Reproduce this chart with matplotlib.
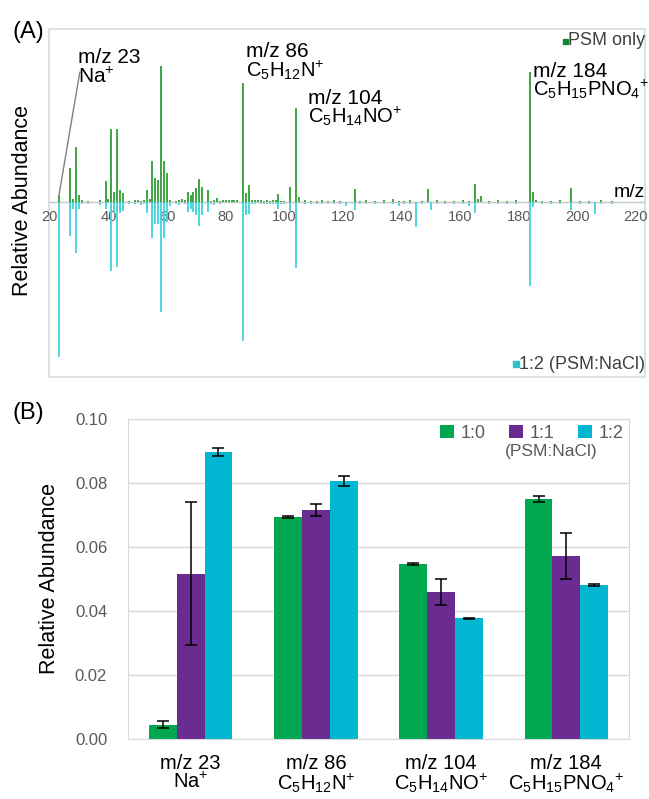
import matplotlib
matplotlib.use('Agg')
import matplotlib.pyplot as plt
import matplotlib.patches as patches
import numpy as np

plt.rcParams['font.family'] = ['Liberation Sans', 'DejaVu Sans']
plt.rcParams['mathtext.default'] = 'regular'

# (A) spectra, intensities scaled to half of the panel height
psm_mz = [23, 27, 28, 29, 30, 39, 40, 41, 42, 43, 44, 45, 50, 53, 54, 55, 56, 57, 58, 59, 60,
          65, 67, 68, 69, 70, 71, 72, 74, 77, 79, 80, 81, 82, 83, 84, 86, 87, 88, 91, 98,
          102, 104, 105, 124, 149, 165, 166, 167, 184, 185, 186, 198]
psm_int = [0.037, 0.197, 0.02, 0.32, 0.04, 0.12, 0.02, 0.42, 0.06, 0.42, 0.07, 0.05, 0.015,
           0.07, 0.02, 0.24, 0.14, 0.13, 0.784, 0.24, 0.17, 0.02, 0.06, 0.04, 0.056, 0.08,
           0.135, 0.09, 0.07, 0.025, 0.015, 0.012, 0.015, 0.012, 0.015, 0.012, 0.69, 0.05,
           0.10, 0.01, 0.046, 0.087, 0.545, 0.027, 0.075, 0.075, 0.104, 0.02, 0.033, 0.75,
           0.06, 0.015, 0.08]
nacl_mz = [23, 27, 28, 29, 30, 39, 41, 42, 43, 44, 45, 53, 55, 56, 57, 58, 59, 60, 67, 68,
           69, 70, 71, 72, 74, 86, 87, 88, 98, 102, 104, 121, 124, 145, 150, 165, 184, 185,
           198, 206]
nacl_int = [0.895, 0.197, 0.04, 0.296, 0.04, 0.04, 0.40, 0.06, 0.373, 0.06, 0.05, 0.063,
            0.21, 0.125, 0.125, 0.637, 0.21, 0.115, 0.057, 0.04, 0.057, 0.076, 0.14, 0.076,
            0.057, 0.80, 0.076, 0.067, 0.04, 0.05, 0.38, 0.02, 0.048, 0.143, 0.048, 0.063,
            0.484, 0.03, 0.048, 0.07]
# small baseline peaks
noise_mz = [31, 33, 37, 47, 49, 51, 52, 61, 63, 64, 66, 75, 76, 78, 89, 90, 92, 93, 94, 95,
            96, 97, 99, 100, 107, 109, 111, 113, 115, 117, 119, 126, 128, 131, 134, 137, 139,
            141, 143, 147, 152, 155, 158, 161, 163, 170, 173, 176, 179, 188, 191, 194, 201,
            204, 208, 212]
noise_psm = [0.01, 0.008, 0.012, 0.009, 0.011, 0.008, 0.01, 0.012, 0.009, 0.014, 0.01, 0.008,
             0.012, 0.009, 0.011, 0.01, 0.013, 0.009, 0.012, 0.008, 0.01, 0.011, 0.009, 0.008,
             0.01, 0.009, 0.008, 0.011, 0.009, 0.01, 0.008, 0.009, 0.011, 0.008, 0.01, 0.016,
             0.009, 0.008, 0.01, 0.009, 0.012, 0.008, 0.009, 0.01, 0.008, 0.009, 0.011, 0.008,
             0.01, 0.009, 0.008, 0.012, 0.009, 0.008, 0.01, 0.008]
noise_nacl = [0.012, 0.01, 0.015, 0.012, 0.01, 0.014, 0.012, 0.02, 0.011, 0.018, 0.012, 0.01,
              0.015, 0.012, 0.01, 0.012, 0.011, 0.01, 0.009, 0.012, 0.01, 0.011, 0.009, 0.01,
              0.01, 0.009, 0.012, 0.01, 0.009, 0.011, 0.01, 0.012, 0.01, 0.009, 0.011, 0.012,
              0.02, 0.01, 0.009, 0.01, 0.009, 0.011, 0.01, 0.012, 0.02, 0.01, 0.009, 0.011,
              0.01, 0.009, 0.011, 0.01, 0.012, 0.01, 0.009, 0.01]
mz_ticks = [20, 40, 60, 80, 100, 120, 140, 160, 180, 200, 220]

# (B) bar data
categories = ['m/z 23\nNa$^{+}$', 'm/z 86\nC$_5$H$_{12}$N$^{+}$',
              'm/z 104\nC$_5$H$_{14}$NO$^{+}$', 'm/z 184\nC$_5$H$_{15}$PNO$_4$$^{+}$']
ratios = ['1:0', '1:1', '1:2']
abund_10 = [0.0045, 0.0695, 0.0546, 0.0750]
abund_11 = [0.0517, 0.0716, 0.0460, 0.0572]
abund_12 = [0.0896, 0.0806, 0.0377, 0.0481]
err_10 = [0.0010, 0.0003, 0.0003, 0.0008]
err_11 = [0.0224, 0.0018, 0.0040, 0.0073]
err_12 = [0.0013, 0.0015, 0.0002, 0.0002]

W, H = 649, 799


def fx(px):
    return px / W


def fy(py):
    return 1 - py / H


fig = plt.figure(figsize=(W / 100, H / 100), dpi=100)

# ---------- panel A ----------
green = '#2f9e35'
cyan = '#3fd3dc'
axA = fig.add_axes([fx(49), fy(377), fx(645) - fx(49), fy(29) - fy(377)])
axA.set_xlim(19.7, 223.1)
axA.set_ylim(-1.01, 1.0)
axA.axhline(0, color='#c8c8c8', lw=1, zorder=1)
axA.vlines(noise_mz, 0, noise_psm, color=green, lw=1.3, zorder=2)
axA.vlines(noise_mz, 0, [-v for v in noise_nacl], color=cyan, lw=1.3, zorder=2)
axA.vlines(psm_mz, 0, psm_int, color=green, lw=1.3, zorder=3)
axA.vlines(nacl_mz, 0, [-v for v in nacl_int], color=cyan, lw=1.3, zorder=3)
for s in axA.spines.values():
    s.set_visible(False)
axA.spines['bottom'].set_visible(True)
axA.spines['bottom'].set_position(('data', 0))
axA.spines['bottom'].set_color('#c8c8c8')
axA.add_patch(patches.Rectangle((0, 0), 1, 1, transform=axA.transAxes, fill=False,
                                ec='#d9d9d9', lw=1.2, clip_on=False))
axA.set_xticks(mz_ticks)
axA.tick_params(axis='x', length=0, pad=6, labelsize=10.5, labelcolor='#595959')
axA.set_yticks([])

# m/z 23 leader line
axA.plot([23, 30.2], [0.03, 0.75], color='#808080', lw=1)

fs = 15
fs2 = 14.5
fig.text(fx(12), fy(38), '(A)', fontsize=17)
fig.text(fx(23), fy(200), 'Relative Abundance', rotation=90, fontsize=15.5,
         ha='center', va='center')
fig.text(fx(78), fy(63), 'm/z 23', fontsize=fs)
fig.text(fx(78), fy(83), 'Na$^{+}$', fontsize=fs)
fig.text(fx(246), fy(57), 'm/z 86', fontsize=fs)
fig.text(fx(246), fy(77), 'C$_5$H$_{12}$N$^{+}$', fontsize=fs2)
fig.text(fx(308), fy(104), 'm/z 104', fontsize=fs)
fig.text(fx(308), fy(123), 'C$_5$H$_{14}$NO$^{+}$', fontsize=fs2)
fig.text(fx(533), fy(77), 'm/z 184', fontsize=fs)
fig.text(fx(533), fy(96), 'C$_5$H$_{15}$PNO$_4$$^{+}$', fontsize=fs2)
fig.text(fx(645), fy(197), 'm/z', fontsize=14, ha='right')
fig.text(fx(645), fy(45), 'PSM only', fontsize=13, ha='right', color='#404040')
fig.patches.append(patches.Rectangle((fx(563), fy(44)), 5 / W, 5 / H, color='#0f8a30',
                                     transform=fig.transFigure, figure=fig))
fig.text(fx(645), fy(369), '1:2 (PSM:NaCl)', fontsize=13, ha='right', color='#404040')
fig.patches.append(patches.Rectangle((fx(513), fy(367)), 6 / W, 6 / H, color='#2cc3c9',
                                     transform=fig.transFigure, figure=fig))

# ---------- panel B ----------
colors = ['#00a74f', '#6a2c91', '#00b6d1']
axB = fig.add_axes([fx(128), fy(739), fx(629) - fx(128), fy(419) - fy(739)])
x = np.arange(len(categories))
w = 0.222
series = [(abund_10, err_10), (abund_11, err_11), (abund_12, err_12)]
for i, (vals, errs) in enumerate(series):
    xs = x + (i - 1) * w
    axB.bar(xs, vals, w, color=colors[i], label=ratios[i], zorder=2)
    axB.errorbar(xs, vals, yerr=errs, fmt='none', ecolor='black', elinewidth=1.1,
                 capsize=4, capthick=1.1, zorder=3)
axB.set_xlim(-0.5, 3.5)
axB.set_ylim(0, 0.10)
axB.set_yticks([0, 0.02, 0.04, 0.06, 0.08, 0.10])
axB.set_yticklabels(['0.00', '0.02', '0.04', '0.06', '0.08', '0.10'])
axB.yaxis.grid(True, color='#d9d9d9', lw=1)
axB.set_axisbelow(True)
for s in axB.spines.values():
    s.set_color('#d9d9d9')
axB.tick_params(axis='y', length=0, pad=15, labelsize=12, labelcolor='#595959')
axB.set_xticks(x)
axB.set_xticklabels(categories)
axB.tick_params(axis='x', length=0, pad=11, labelsize=14.5)
for lbl in axB.get_xticklabels():
    lbl.set_linespacing(0.92)
fig.text(fx(50), fy(579), 'Relative Abundance', rotation=90, fontsize=15.5,
         ha='center', va='center')
fig.text(fx(12), fy(419), '(B)', fontsize=17)

leg = axB.legend(ncol=3, loc='center right', bbox_to_anchor=(0.99, 0.956), frameon=False,
                 fontsize=13, handlelength=0.75, handleheight=0.75, handletextpad=0.4,
                 columnspacing=1.3, borderpad=0, borderaxespad=0)
for t in leg.get_texts():
    t.set_color('#595959')
axB.text(0.844, 0.897, '(PSM:NaCl)', transform=axB.transAxes, fontsize=12.5,
         color='#595959', ha='center', va='center')

fig.savefig('out.png', dpi=100)
